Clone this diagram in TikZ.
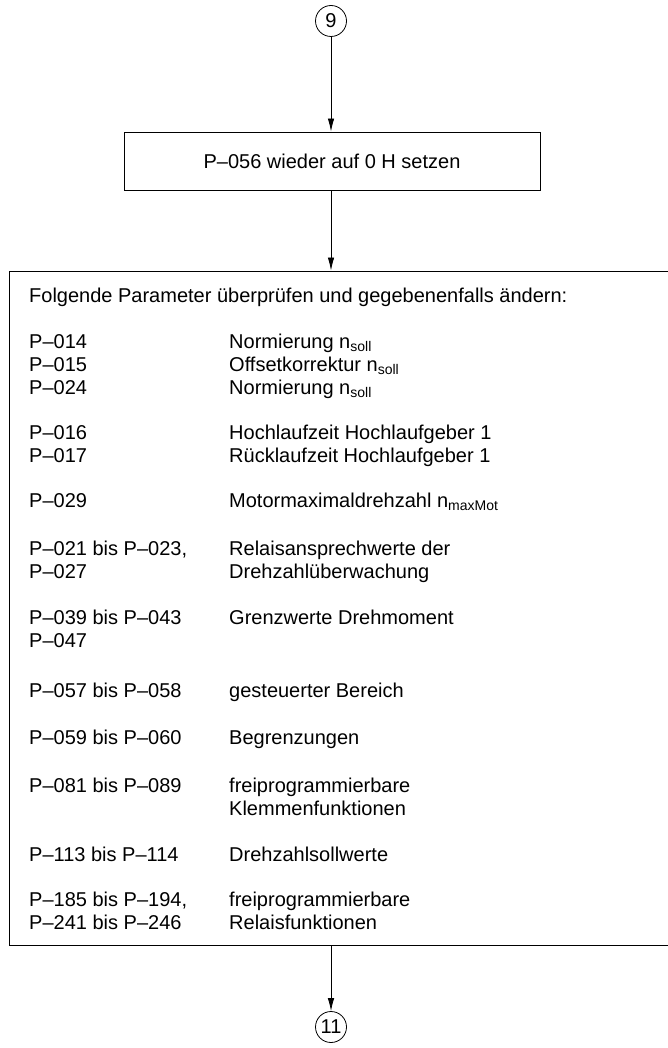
\documentclass[tikz,border=0pt]{standalone}
\usepackage{fontspec}
\setmainfont{Liberation Sans}
\usetikzlibrary{arrows.meta,positioning}

\begin{document}
\begin{tikzpicture}[x=1pt,y=-1pt,
    font=\fontsize{20}{23}\selectfont,
    box/.style={draw, line width=0.9pt, inner sep=0pt},
    ref/.style={draw, circle, line width=0.8pt, minimum size=31pt, inner sep=0pt},
    conn/.style={line width=0.8pt, -{Latex[length=13pt,width=6.5pt]}},
    txt/.style={anchor=base west, inner sep=0pt}]
    \useasboundingbox (0,0) rectangle (668,1048);
    \node[ref] (c9) at (331,21) {9};
    \node[box, minimum width=416pt, minimum height=58pt] (reset) at (332,161) {P–056 wieder auf 0 H setzen};
    \node[box, minimum width=660pt, minimum height=674pt] (params) at (339,608) {};
    \node[ref] (c11) at (331,1027) {11};
    \draw[conn] (c9) -- (c9 |- reset.north);
    \draw[conn] (c9 |- reset.south) -- (c9 |- params.north);
    \draw[conn] (c9 |- params.south) -- (c11);
    % Parameterliste
    \node[txt] (head) at (29,302) {Folgende Parameter überprüfen und gegebenenfalls ändern:};
    \foreach \y/\l/\r in {348/P–014/Normierung n\textsubscript{soll},
        371/P–015/Offsetkorrektur n\textsubscript{soll},
        394/P–024/Normierung n\textsubscript{soll},
        439/P–016/Hochlaufzeit Hochlaufgeber 1,
        462/P–017/Rücklaufzeit Hochlaufgeber 1,
        507/P–029/Motormaximaldrehzahl n\textsubscript{maxMot},
        555/{P–021 bis P–023,}/Relaisansprechwerte der,
        578/P–027/Drehzahlüberwachung,
        624/P–039 bis P–043/Grenzwerte Drehmoment,
        647/P–047/{},
        697/P–057 bis P–058/gesteuerter Bereich,
        744/P–059 bis P–060/Begrenzungen,
        792/P–081 bis P–089/freiprogrammierbare,
        815/{}/Klemmenfunktionen,
        861/P–113 bis P–114/Drehzahlsollwerte,
        906/{P–185 bis P–194,}/freiprogrammierbare,
        929/P–241 bis P–246/Relaisfunktionen}
    {
        \node[txt] (p\y) at (29,\y) {\l};
        \node[txt] (d\y) at (229,\y) {\r};
    }
\end{tikzpicture}
\end{document}
